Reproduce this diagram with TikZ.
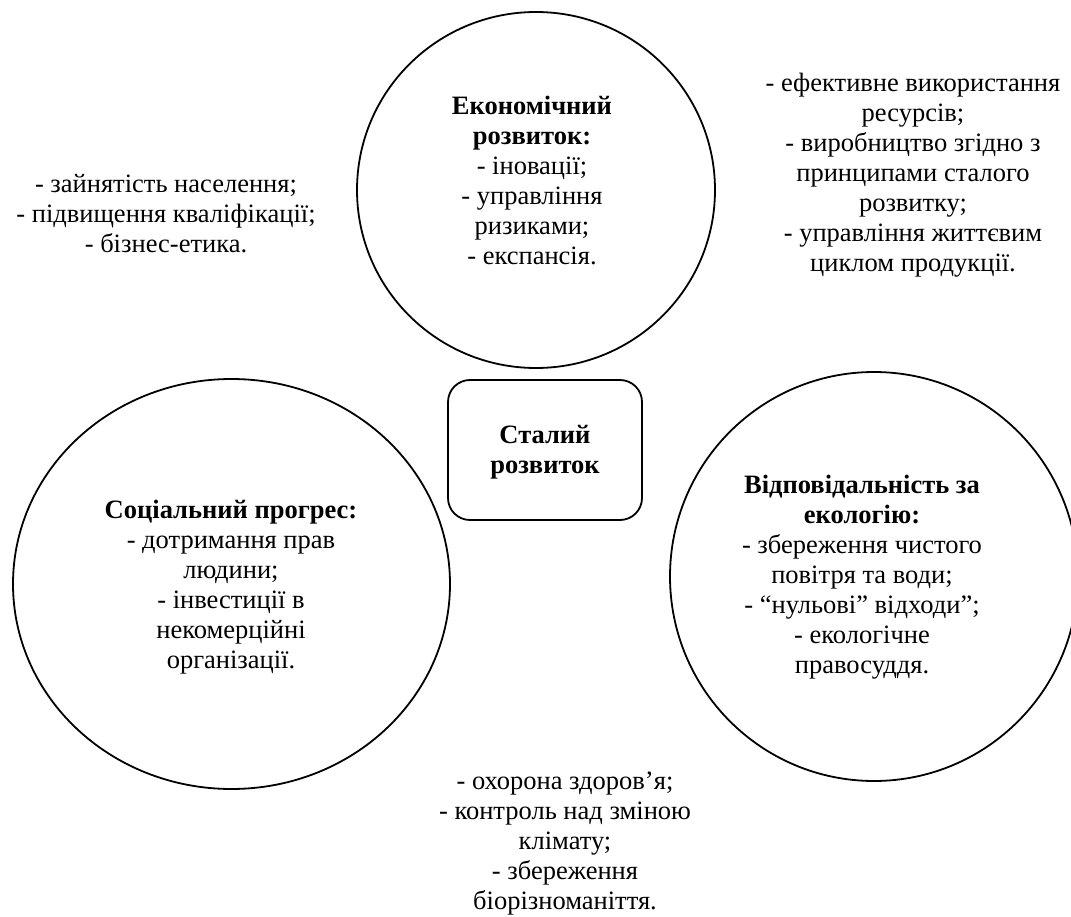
\documentclass[tikz,border=0pt]{standalone}
\usepackage{fontspec}
\setmainfont{Liberation Serif}
\newfontfamily\tnr{Liberation Serif}
\usetikzlibrary{shapes.geometric}
\begin{document}
\begin{tikzpicture}[x=1pt,y=-1pt,
  oval/.style={draw=black, line width=1.8pt, shape=ellipse, inner sep=0pt},
  core/.style={draw=black, line width=1.8pt, rounded corners=22pt, inner sep=0pt},
  txt/.style={align=center, inner sep=0pt, font=\tnr\fontsize{26.5}{30}\selectfont}
]
\useasboundingbox (0,0) rectangle (1071,917);
% shapes
\node[oval, minimum width=358pt, minimum height=356pt] (eco) at (536,190) {};
\node[oval, minimum width=437pt, minimum height=410pt] (soc) at (231.5,584) {};
\node[oval, minimum width=408pt, minimum height=409pt] (env) at (874,576.5) {};
\node[core, minimum width=194pt, minimum height=140pt] (sr) at (545,450) {};
% texts
\node[txt] (srt) at (545,452) {\textbf{Сталий}\\\textbf{розвиток}};
\node[txt] (ecot) at (532,180) {\textbf{Економічний}\\\textbf{розвиток:}\\- іновації;\\- управління\\ризиками;\\- експансія.};
\node[txt] (soct) at (231,587) {\textbf{Соціальний прогрес:}\\- дотримання прав\\людини;\\- інвестиції в\\некомерційні\\організації.};
\node[txt] (envt) at (862,577) {\textbf{Відповідальність за}\\\textbf{екологію:}\\- збереження чистого\\повітря та води;\\- “нульові” відходи”;\\- екологічне\\правосуддя.};
\node[txt] (lt) at (166,214) {- зайнятість населення;\\- підвищення кваліфікації;\\- бізнес-етика.};
\node[txt] (rt) at (913,175) {- ефективне використання\\ресурсів;\\- виробництво згідно з\\принципами сталого\\розвитку;\\- управління життєвим\\циклом продукції.};
\node[txt] (bt) at (565,844) {- охорона здоров’я;\\- контроль над зміною\\клімату;\\- збереження\\біорізноманіття.};
\end{tikzpicture}
\end{document}
